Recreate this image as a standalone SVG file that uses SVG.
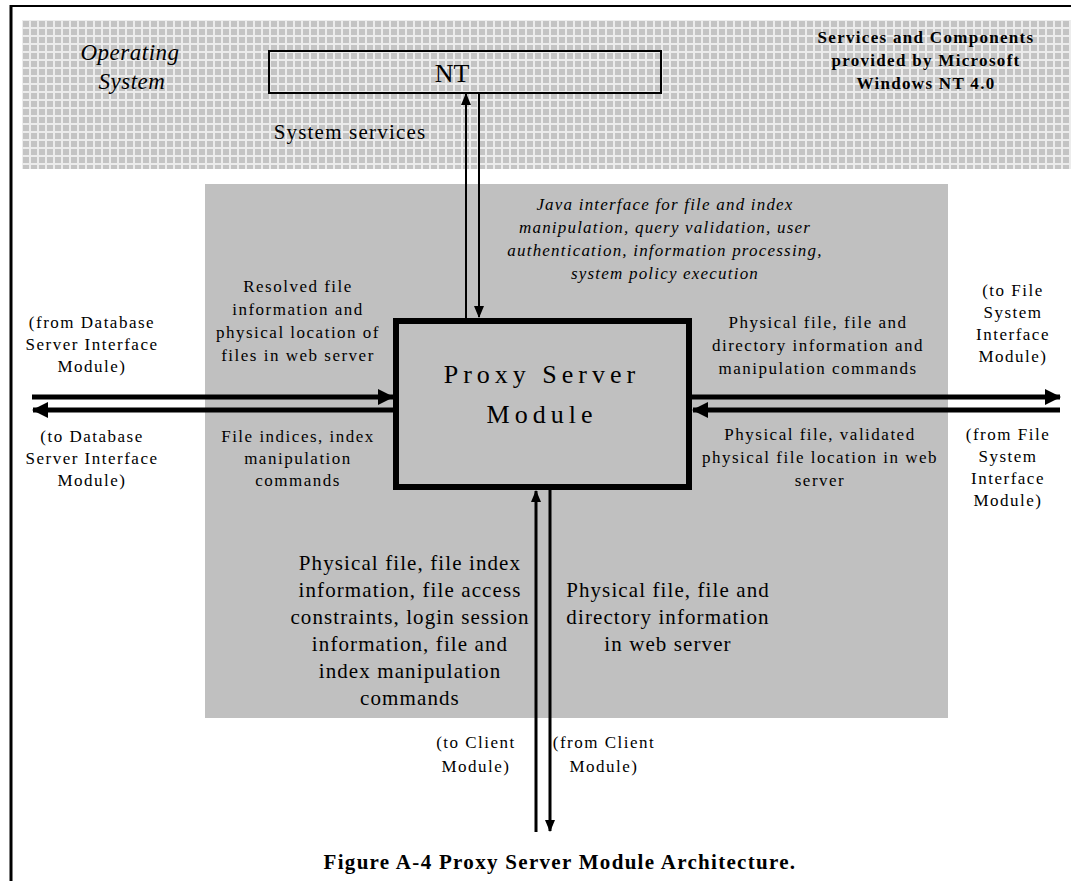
<svg xmlns="http://www.w3.org/2000/svg" width="1071" height="881" viewBox="0 0 1071 881">
  <defs>
    <!-- checkered screen used for the operating-system band -->
    <pattern id="screen" x="22" y="20" width="8" height="8" patternUnits="userSpaceOnUse">
      <rect width="8" height="8" fill="#ececec"/>
      <rect x="1" y="1" width="6" height="6" fill="#c4c4c4"/>
    </pattern>
    <marker id="headBig" viewBox="0 0 16 16" refX="15" refY="8" markerWidth="16" markerHeight="16" markerUnits="userSpaceOnUse" orient="auto">
      <path d="M0,0 L16,8 L0,16 Z" fill="#000"/>
    </marker>
    <marker id="headSmall" viewBox="0 0 12 10" refX="11" refY="5" markerWidth="12" markerHeight="10" markerUnits="userSpaceOnUse" orient="auto">
      <path d="M0,0 L12,5 L0,10 Z" fill="#000"/>
    </marker>
  </defs>
  <style>
    text { font-family: "Liberation Serif", "Times New Roman", serif; fill: #000; text-anchor: middle; }
    .lbl { font-size: 17px; letter-spacing: 1.5px; }
    .big { font-size: 21px; letter-spacing: 1.1px; }
    .ital { font-size: 17px; font-style: italic; letter-spacing: 1.2px; }
    .bold { font-size: 17px; font-weight: bold; letter-spacing: 1.3px; }
    .thick { stroke: #000; stroke-width: 5; fill: none; }
    .thin { stroke: #000; stroke-width: 2; fill: none; }
    .mid { stroke: #000; stroke-width: 3; fill: none; }
  </style>

  <rect width="1071" height="881" fill="#fff"/>

  <!-- page frame -->
  <g id="frame">
    <line x1="10" y1="6" x2="1071" y2="6" stroke="#000" stroke-width="2"/>
    <line x1="11" y1="5" x2="11" y2="881" stroke="#000" stroke-width="3"/>
  </g>

  <!-- operating system band -->
  <g id="os">
    <rect x="22" y="20" width="1049" height="149" fill="url(#screen)"/>
    <text x="130" y="60" style="font-size:23px;font-style:italic;letter-spacing:0.5px">Operating</text>
    <text x="132" y="89" style="font-size:23px;font-style:italic;letter-spacing:0.5px">System</text>
    <text x="350" y="139" style="font-size:21px;letter-spacing:1.2px">System services</text>
    <text x="926" y="43" class="bold">Services and Components</text>
    <text x="926" y="66" class="bold">provided by Microsoft</text>
    <text x="926" y="89" class="bold">Windows NT 4.0</text>
  </g>

  <g id="nt">
    <rect x="269" y="51" width="392" height="42" fill="none" stroke="#000" stroke-width="2"/>
    <text x="452" y="82" style="font-size:26px">NT</text>
  </g>

  <!-- proxy server region -->
  <g id="region">
    <rect x="205" y="184" width="743" height="534" fill="#c0c0c0"/>
    <text x="665" y="210" class="ital">Java interface for file and index</text>
    <text x="665" y="233" class="ital">manipulation, query validation, user</text>
    <text x="665" y="256" class="ital">authentication, information processing,</text>
    <text x="665" y="279" class="ital">system policy execution</text>
  </g>

  <g id="proxy">
    <rect x="396" y="321" width="293" height="166" fill="none" stroke="#000" stroke-width="6"/>
    <text x="542" y="383" style="font-size:26px;letter-spacing:5px">Proxy Server</text>
    <text x="542" y="423" style="font-size:26px;letter-spacing:5px">Module</text>
  </g>

  <!-- connectors -->
  <g id="connectors">
    <line class="thin" x1="466" y1="318" x2="466" y2="94" marker-end="url(#headSmall)"/>
    <line class="thin" x1="479" y1="93" x2="479" y2="317" marker-end="url(#headSmall)"/>
    <line class="thick" x1="32" y1="397" x2="393" y2="397" marker-end="url(#headBig)"/>
    <line class="thick" x1="393" y1="410" x2="33" y2="410" marker-end="url(#headBig)"/>
    <line class="thick" x1="692" y1="397" x2="1060" y2="397" marker-end="url(#headBig)"/>
    <line class="thick" x1="1060" y1="410" x2="693" y2="410" marker-end="url(#headBig)"/>
    <line class="mid" x1="536" y1="832" x2="536" y2="491" marker-end="url(#headSmall)"/>
    <line class="mid" x1="550" y1="490" x2="550" y2="831" marker-end="url(#headSmall)"/>
  </g>

  <!-- connector labels -->
  <g id="labels">
    <text x="298" y="292" class="lbl">Resolved file</text>
    <text x="298" y="315" class="lbl">information and</text>
    <text x="298" y="338" class="lbl">physical location of</text>
    <text x="298" y="361" class="lbl">files in web server</text>

    <text x="92" y="328" class="lbl">(from Database</text>
    <text x="92" y="350" class="lbl">Server Interface</text>
    <text x="92" y="372" class="lbl">Module)</text>

    <text x="92" y="442" class="lbl">(to Database</text>
    <text x="92" y="464" class="lbl">Server Interface</text>
    <text x="92" y="486" class="lbl">Module)</text>

    <text x="298" y="442" class="lbl">File indices, index</text>
    <text x="298" y="464" class="lbl">manipulation</text>
    <text x="298" y="486" class="lbl">commands</text>

    <text x="818" y="328" class="lbl">Physical file, file and</text>
    <text x="818" y="351" class="lbl">directory information and</text>
    <text x="818" y="374" class="lbl">manipulation commands</text>

    <text x="820" y="440" class="lbl">Physical file, validated</text>
    <text x="820" y="463" class="lbl">physical file location in web</text>
    <text x="820" y="486" class="lbl">server</text>

    <text x="1013" y="296" class="lbl">(to File</text>
    <text x="1013" y="318" class="lbl">System</text>
    <text x="1013" y="340" class="lbl">Interface</text>
    <text x="1013" y="362" class="lbl">Module)</text>

    <text x="1008" y="440" class="lbl">(from File</text>
    <text x="1008" y="462" class="lbl">System</text>
    <text x="1008" y="484" class="lbl">Interface</text>
    <text x="1008" y="506" class="lbl">Module)</text>

    <text x="410" y="570" class="big">Physical file, file index</text>
    <text x="410" y="597" class="big">information, file access</text>
    <text x="410" y="624" class="big">constraints, login session</text>
    <text x="410" y="651" class="big">information, file and</text>
    <text x="410" y="678" class="big">index manipulation</text>
    <text x="410" y="705" class="big">commands</text>

    <text x="668" y="597" class="big">Physical file, file and</text>
    <text x="668" y="624" class="big">directory information</text>
    <text x="668" y="651" class="big">in web server</text>

    <text x="476" y="748" class="lbl">(to Client</text>
    <text x="476" y="772" class="lbl">Module)</text>
    <text x="604" y="748" class="lbl">(from Client</text>
    <text x="604" y="772" class="lbl">Module)</text>
  </g>

  <text id="caption" x="560" y="869" style="font-size:21px;font-weight:bold;letter-spacing:1.3px">Figure A-4 Proxy Server Module Architecture.</text>
</svg>
